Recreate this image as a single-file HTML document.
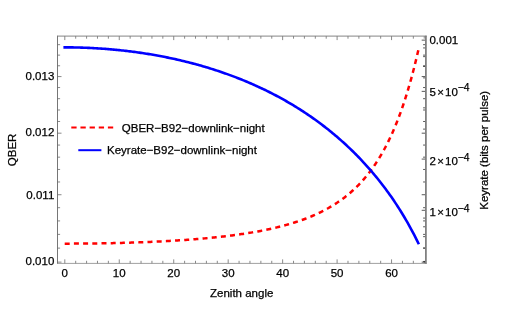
<!DOCTYPE html>
<html><head><meta charset="utf-8"><title>QBER and Keyrate vs Zenith angle</title>
<style>html,body{margin:0;padding:0;background:#fff;}svg{display:block;will-change:transform;}</style></head>
<body><svg width="518" height="311" viewBox="0 0 518 311">
<rect x="0" y="0" width="518" height="311" fill="#fff"/>
<path d="M64.80 263.40v-4.00M64.80 36.10v4.00M75.69 263.40v-2.60M75.69 36.10v2.60M86.58 263.40v-2.60M86.58 36.10v2.60M97.48 263.40v-2.60M97.48 36.10v2.60M108.37 263.40v-2.60M108.37 36.10v2.60M119.26 263.40v-4.00M119.26 36.10v4.00M130.15 263.40v-2.60M130.15 36.10v2.60M141.04 263.40v-2.60M141.04 36.10v2.60M151.94 263.40v-2.60M151.94 36.10v2.60M162.83 263.40v-2.60M162.83 36.10v2.60M173.72 263.40v-4.00M173.72 36.10v4.00M184.61 263.40v-2.60M184.61 36.10v2.60M195.50 263.40v-2.60M195.50 36.10v2.60M206.40 263.40v-2.60M206.40 36.10v2.60M217.29 263.40v-2.60M217.29 36.10v2.60M228.18 263.40v-4.00M228.18 36.10v4.00M239.07 263.40v-2.60M239.07 36.10v2.60M249.96 263.40v-2.60M249.96 36.10v2.60M260.86 263.40v-2.60M260.86 36.10v2.60M271.75 263.40v-2.60M271.75 36.10v2.60M282.64 263.40v-4.00M282.64 36.10v4.00M293.53 263.40v-2.60M293.53 36.10v2.60M304.42 263.40v-2.60M304.42 36.10v2.60M315.32 263.40v-2.60M315.32 36.10v2.60M326.21 263.40v-2.60M326.21 36.10v2.60M337.10 263.40v-4.00M337.10 36.10v4.00M347.99 263.40v-2.60M347.99 36.10v2.60M358.88 263.40v-2.60M358.88 36.10v2.60M369.78 263.40v-2.60M369.78 36.10v2.60M380.67 263.40v-2.60M380.67 36.10v2.60M391.56 263.40v-4.00M391.56 36.10v4.00M402.45 263.40v-2.60M402.45 36.10v2.60M413.34 263.40v-2.60M413.34 36.10v2.60M424.24 263.40v-2.60M424.24 36.10v2.60M57.50 262.12h4.00M57.50 248.12h2.60M57.50 234.38h2.60M57.50 220.91h2.60M57.50 207.69h2.60M57.50 194.72h4.00M57.50 181.97h2.60M57.50 169.46h2.60M57.50 157.16h2.60M57.50 145.07h2.60M57.50 133.18h4.00M57.50 121.49h2.60M57.50 109.99h2.60M57.50 98.68h2.60M57.50 87.54h2.60M57.50 76.58h4.00M57.50 65.78h2.60M57.50 55.14h2.60M57.50 44.67h2.60" stroke="#6b6b6b" stroke-width="0.8" fill="none"/>
<path d="M425.30 262.12h-3.60M425.30 248.12h-2.20M425.30 234.38h-2.20M425.30 220.91h-2.20M425.30 207.69h-2.20M425.30 194.72h-3.60M425.30 181.97h-2.20M425.30 169.46h-2.20M425.30 157.16h-2.20M425.30 145.07h-2.20M425.30 133.18h-3.60M425.30 121.49h-2.20M425.30 109.99h-2.20M425.30 98.68h-2.20M425.30 87.54h-2.20M425.30 76.58h-3.60M425.30 65.78h-2.20M425.30 55.14h-2.20M425.30 44.67h-2.20M425.30 210.30h-3.60M425.30 159.08h-3.60M425.30 91.36h-3.60M425.30 40.14h-3.60M425.30 261.52h-2.20M425.30 248.05h-2.20M425.30 236.66h-2.20M425.30 226.79h-2.20M425.30 218.09h-2.20M425.30 129.11h-2.20M425.30 107.85h-2.20M425.30 77.89h-2.20M425.30 66.50h-2.20M425.30 56.63h-2.20M425.30 47.93h-2.20" stroke="#222" stroke-width="0.75" fill="none"/>
<path d="M57.50 35.65V263.75" stroke="#666" stroke-width="0.9" fill="none"/>
<path d="M57.50 36.10H426.75" stroke="#777" stroke-width="0.9" fill="none"/>
<path d="M57.50 263.40H426.75" stroke="#777" stroke-width="0.7" fill="none"/>
<path d="M425.90 35.65V263.75" stroke="#7a7a7a" stroke-width="1.7" fill="none"/>
<path d="M64.70 243.64 L66.06 243.64 L67.42 243.63 L68.78 243.63 L70.14 243.63 L71.50 243.63 L72.86 243.62 L74.22 243.62 L75.58 243.61 L76.94 243.60 L78.30 243.60 L79.66 243.59 L81.02 243.58 L82.38 243.57 L83.74 243.56 L85.10 243.54 L86.46 243.53 L87.82 243.52 L89.18 243.50 L90.54 243.49 L91.90 243.47 L93.26 243.46 L94.62 243.44 L95.98 243.42 L97.34 243.40 L98.70 243.38 L100.06 243.36 L101.42 243.34 L102.78 243.31 L104.14 243.29 L105.50 243.26 L106.86 243.24 L108.22 243.21 L109.58 243.18 L110.94 243.15 L112.30 243.13 L113.66 243.10 L115.02 243.06 L116.38 243.03 L117.74 243.00 L119.10 242.96 L120.46 242.93 L121.82 242.89 L123.18 242.86 L124.54 242.82 L125.90 242.78 L127.26 242.74 L128.62 242.70 L129.98 242.66 L131.34 242.61 L132.70 242.57 L134.06 242.52 L135.42 242.48 L136.78 242.43 L138.14 242.38 L139.50 242.33 L140.86 242.28 L142.22 242.23 L143.58 242.18 L144.94 242.13 L146.30 242.07 L147.66 242.01 L149.02 241.96 L150.38 241.90 L151.74 241.84 L153.10 241.78 L154.46 241.72 L155.82 241.65 L157.18 241.59 L158.54 241.52 L159.90 241.45 L161.26 241.39 L162.62 241.32 L163.98 241.24 L165.34 241.17 L166.70 241.10 L168.06 241.02 L169.42 240.95 L170.78 240.87 L172.14 240.79 L173.50 240.71 L174.86 240.62 L176.22 240.54 L177.58 240.45 L178.94 240.37 L180.30 240.28 L181.66 240.19 L183.02 240.09 L184.38 240.00 L185.74 239.90 L187.10 239.81 L188.46 239.71 L189.82 239.61 L191.18 239.51 L192.54 239.40 L193.90 239.29 L195.26 239.19 L196.62 239.08 L197.98 238.96 L199.34 238.85 L200.70 238.73 L202.06 238.62 L203.42 238.50 L204.78 238.37 L206.14 238.25 L207.50 238.12 L208.86 237.99 L210.22 237.86 L211.58 237.73 L212.94 237.59 L214.30 237.45 L215.66 237.31 L217.02 237.17 L218.38 237.02 L219.74 236.87 L221.10 236.72 L222.46 236.57 L223.82 236.41 L225.18 236.25 L226.54 236.09 L227.90 235.93 L229.26 235.76 L230.62 235.59 L231.98 235.41 L233.34 235.23 L234.70 235.05 L236.06 234.87 L237.42 234.68 L238.78 234.49 L240.14 234.30 L241.50 234.10 L242.86 233.90 L244.22 233.69 L245.58 233.48 L246.94 233.27 L248.30 233.05 L249.66 232.83 L251.02 232.61 L252.38 232.38 L253.74 232.14 L255.10 231.90 L256.46 231.66 L257.82 231.41 L259.18 231.16 L260.54 230.90 L261.90 230.64 L263.26 230.38 L264.62 230.10 L265.98 229.83 L267.34 229.54 L268.70 229.25 L270.06 228.96 L271.42 228.66 L272.78 228.35 L274.14 228.04 L275.50 227.72 L276.86 227.39 L278.22 227.06 L279.58 226.72 L280.94 226.38 L282.30 226.02 L283.66 225.66 L285.02 225.30 L286.38 224.92 L287.74 224.54 L289.10 224.14 L290.46 223.74 L291.82 223.34 L293.18 222.92 L294.54 222.49 L295.90 222.06 L297.26 221.61 L298.62 221.16 L299.98 220.69 L301.34 220.21 L302.70 219.73 L304.06 219.23 L305.42 218.72 L306.78 218.20 L308.14 217.67 L309.50 217.12 L310.86 216.57 L312.22 216.00 L313.58 215.41 L314.94 214.82 L316.30 214.20 L317.66 213.58 L319.02 212.94 L320.38 212.28 L321.74 211.61 L323.10 210.92 L324.46 210.21 L325.82 209.49 L327.18 208.74 L328.54 207.98 L329.90 207.20 L331.26 206.40 L332.62 205.58 L333.98 204.74 L335.34 203.88 L336.70 202.99 L338.06 202.08 L339.42 201.15 L340.78 200.19 L342.14 199.20 L343.50 198.19 L344.86 197.15 L346.22 196.09 L347.58 194.99 L348.94 193.86 L350.30 192.70 L351.66 191.51 L353.02 190.29 L354.38 189.03 L355.74 187.73 L357.10 186.39 L358.46 185.02 L359.82 183.61 L361.18 182.15 L362.54 180.66 L363.90 179.11 L365.26 177.52 L366.62 175.88 L367.98 174.20 L369.34 172.46 L370.70 170.66 L372.06 168.81 L373.42 166.90 L374.78 164.94 L376.14 162.91 L377.50 160.81 L378.86 158.65 L380.22 156.41 L381.58 154.11 L382.94 151.72 L384.30 149.26 L385.66 146.72 L387.02 144.09 L388.38 141.37 L389.74 138.57 L391.10 135.66 L392.46 132.66 L393.82 129.55 L395.18 126.34 L396.54 123.01 L397.90 119.56 L399.26 116.00 L400.62 112.31 L401.98 108.49 L403.34 104.53 L404.70 100.43 L406.06 96.18 L407.42 91.78 L408.78 87.22 L410.14 82.49 L411.50 77.60 L412.86 72.52 L414.22 67.25 L415.58 61.79 L416.94 56.13 L418.30 50.27" fill="none" stroke="#ff0000" stroke-width="2.5" stroke-dasharray="5 4.2"/>
<path d="M64.70 47.35 L66.06 47.35 L67.42 47.35 L68.78 47.36 L70.14 47.37 L71.50 47.39 L72.86 47.41 L74.22 47.43 L75.58 47.46 L76.94 47.49 L78.30 47.52 L79.66 47.56 L81.02 47.60 L82.38 47.64 L83.74 47.69 L85.10 47.74 L86.46 47.79 L87.82 47.85 L89.18 47.91 L90.54 47.97 L91.90 48.04 L93.26 48.11 L94.62 48.18 L95.98 48.26 L97.34 48.34 L98.70 48.43 L100.06 48.52 L101.42 48.61 L102.78 48.70 L104.14 48.80 L105.50 48.91 L106.86 49.01 L108.22 49.12 L109.58 49.24 L110.94 49.35 L112.30 49.47 L113.66 49.60 L115.02 49.72 L116.38 49.86 L117.74 49.99 L119.10 50.13 L120.46 50.27 L121.82 50.42 L123.18 50.57 L124.54 50.72 L125.90 50.88 L127.26 51.04 L128.62 51.20 L129.98 51.37 L131.34 51.54 L132.70 51.72 L134.06 51.90 L135.42 52.08 L136.78 52.27 L138.14 52.46 L139.50 52.65 L140.86 52.85 L142.22 53.05 L143.58 53.26 L144.94 53.47 L146.30 53.68 L147.66 53.90 L149.02 54.12 L150.38 54.34 L151.74 54.57 L153.10 54.81 L154.46 55.04 L155.82 55.29 L157.18 55.53 L158.54 55.78 L159.90 56.03 L161.26 56.29 L162.62 56.55 L163.98 56.82 L165.34 57.09 L166.70 57.36 L168.06 57.64 L169.42 57.92 L170.78 58.21 L172.14 58.50 L173.50 58.79 L174.86 59.09 L176.22 59.39 L177.58 59.70 L178.94 60.01 L180.30 60.33 L181.66 60.65 L183.02 60.98 L184.38 61.31 L185.74 61.64 L187.10 61.98 L188.46 62.32 L189.82 62.67 L191.18 63.02 L192.54 63.38 L193.90 63.74 L195.26 64.10 L196.62 64.48 L197.98 64.85 L199.34 65.23 L200.70 65.62 L202.06 66.01 L203.42 66.40 L204.78 66.80 L206.14 67.20 L207.50 67.61 L208.86 68.03 L210.22 68.45 L211.58 68.87 L212.94 69.30 L214.30 69.73 L215.66 70.17 L217.02 70.62 L218.38 71.07 L219.74 71.52 L221.10 71.98 L222.46 72.45 L223.82 72.92 L225.18 73.40 L226.54 73.88 L227.90 74.37 L229.26 74.86 L230.62 75.36 L231.98 75.86 L233.34 76.37 L234.70 76.89 L236.06 77.41 L237.42 77.94 L238.78 78.47 L240.14 79.01 L241.50 79.55 L242.86 80.10 L244.22 80.66 L245.58 81.22 L246.94 81.79 L248.30 82.37 L249.66 82.95 L251.02 83.54 L252.38 84.13 L253.74 84.73 L255.10 85.34 L256.46 85.95 L257.82 86.57 L259.18 87.20 L260.54 87.84 L261.90 88.48 L263.26 89.12 L264.62 89.78 L265.98 90.44 L267.34 91.11 L268.70 91.78 L270.06 92.47 L271.42 93.16 L272.78 93.85 L274.14 94.56 L275.50 95.27 L276.86 95.99 L278.22 96.72 L279.58 97.45 L280.94 98.19 L282.30 98.95 L283.66 99.70 L285.02 100.47 L286.38 101.25 L287.74 102.03 L289.10 102.82 L290.46 103.62 L291.82 104.43 L293.18 105.24 L294.54 106.07 L295.90 106.90 L297.26 107.75 L298.62 108.60 L299.98 109.46 L301.34 110.33 L302.70 111.21 L304.06 112.10 L305.42 113.00 L306.78 113.91 L308.14 114.82 L309.50 115.75 L310.86 116.69 L312.22 117.64 L313.58 118.60 L314.94 119.56 L316.30 120.54 L317.66 121.53 L319.02 122.53 L320.38 123.55 L321.74 124.57 L323.10 125.60 L324.46 126.65 L325.82 127.70 L327.18 128.77 L328.54 129.85 L329.90 130.95 L331.26 132.05 L332.62 133.17 L333.98 134.30 L335.34 135.44 L336.70 136.60 L338.06 137.76 L339.42 138.95 L340.78 140.14 L342.14 141.35 L343.50 142.57 L344.86 143.81 L346.22 145.06 L347.58 146.33 L348.94 147.61 L350.30 148.91 L351.66 150.22 L353.02 151.55 L354.38 152.89 L355.74 154.26 L357.10 155.63 L358.46 157.03 L359.82 158.44 L361.18 159.87 L362.54 161.31 L363.90 162.78 L365.26 164.26 L366.62 165.77 L367.98 167.29 L369.34 168.83 L370.70 170.39 L372.06 171.98 L373.42 173.58 L374.78 175.21 L376.14 176.86 L377.50 178.53 L378.86 180.22 L380.22 181.94 L381.58 183.68 L382.94 185.45 L384.30 187.24 L385.66 189.06 L387.02 190.91 L388.38 192.78 L389.74 194.68 L391.10 196.62 L392.46 198.58 L393.82 200.57 L395.18 202.60 L396.54 204.65 L397.90 206.75 L399.26 208.87 L400.62 211.04 L401.98 213.24 L403.34 215.48 L404.70 217.75 L406.06 220.08 L407.42 222.44 L408.78 224.85 L410.14 227.30 L411.50 229.80 L412.86 232.36 L414.22 234.96 L415.58 237.62 L416.94 240.33 L418.30 243.11" fill="none" stroke="#0000ff" stroke-width="2.6" stroke-linejoin="round" stroke-linecap="square"/>
<g font-family="'Liberation Sans', sans-serif" font-size="11.5" fill="#000" stroke="#000" stroke-width="0.25">
<text x="64.80" y="276.9" text-anchor="middle">0</text>
<text x="119.26" y="276.9" text-anchor="middle">10</text>
<text x="173.72" y="276.9" text-anchor="middle">20</text>
<text x="228.18" y="276.9" text-anchor="middle">30</text>
<text x="282.64" y="276.9" text-anchor="middle">40</text>
<text x="337.10" y="276.9" text-anchor="middle">50</text>
<text x="391.56" y="276.9" text-anchor="middle">60</text>
<text x="54.3" y="265.22" text-anchor="end">0.010</text>
<text x="54.3" y="198.62" text-anchor="end">0.011</text>
<text x="54.3" y="136.48" text-anchor="end">0.012</text>
<text x="54.3" y="79.98" text-anchor="end">0.013</text>
<text x="241.7" y="297.1" text-anchor="middle">Zenith angle</text>
<text transform="translate(15.6 149.9) rotate(-90)" text-anchor="middle">QBER</text>
<text transform="translate(487.5 150.3) rotate(-90)" text-anchor="middle">Keyrate (bits per pulse)</text>
<text x="429.4" y="43.9">0.001</text>
<text y="96.26"><tspan x="429.40">5</tspan><tspan x="437.3">×</tspan><tspan x="445.0">10</tspan><tspan x="457.8" dy="-5.0" font-size="10.3">−4</tspan></text>
<text y="165.08"><tspan x="429.40">2</tspan><tspan x="437.3">×</tspan><tspan x="445.0">10</tspan><tspan x="457.8" dy="-4.3" font-size="10.3">−4</tspan></text>
<text y="216.30"><tspan x="429.40">1</tspan><tspan x="437.3">×</tspan><tspan x="445.0">10</tspan><tspan x="457.8" dy="-4.6" font-size="10.3">−4</tspan></text>
<text x="121.8" y="131.8">QBER−B92−downlink−night</text>
<text x="107.0" y="154.4">Keyrate−B92−downlink−night</text>
</g>
<path d="M71.3 127.6H113.3" stroke="#ff0000" stroke-width="2" stroke-dasharray="5.3 3.85" fill="none"/>
<path d="M78.3 150.2H101.4" stroke="#0000ff" stroke-width="2" fill="none"/>
</svg></body></html>
